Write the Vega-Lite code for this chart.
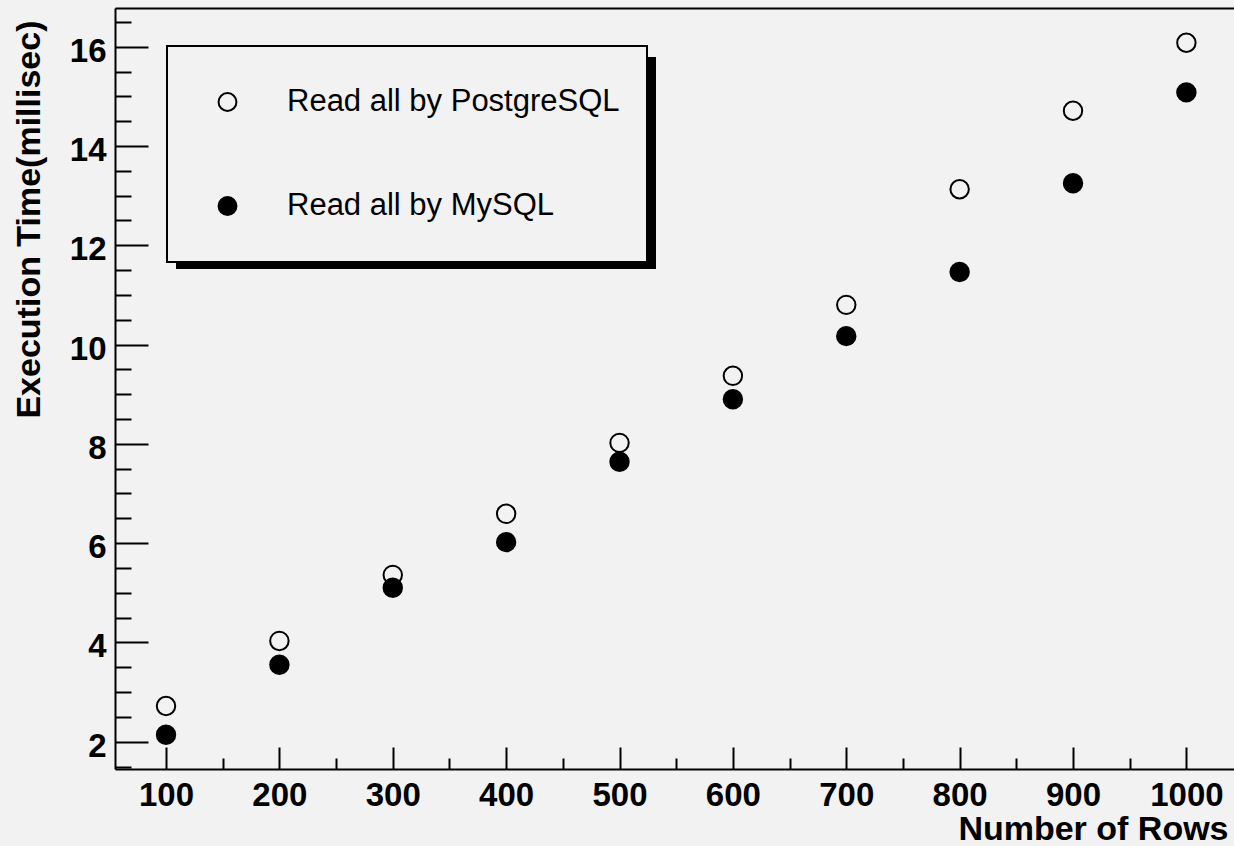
{
  "$schema": "https://vega.github.io/schema/vega-lite/v6.json",
  "autosize": {"type": "none"},
  "padding": {"left": 115, "top": 8, "right": 0, "bottom": 77},
  "width": 1119,
  "height": 761,
  "background": "#f2f2f2",
  "datasets": {
    "pts": [
      {"rows": 100, "time": 2.72, "series": "Read all by PostgreSQL"},
      {"rows": 200, "time": 4.03, "series": "Read all by PostgreSQL"},
      {"rows": 300, "time": 5.36, "series": "Read all by PostgreSQL"},
      {"rows": 400, "time": 6.59, "series": "Read all by PostgreSQL"},
      {"rows": 500, "time": 8.02, "series": "Read all by PostgreSQL"},
      {"rows": 600, "time": 9.37, "series": "Read all by PostgreSQL"},
      {"rows": 700, "time": 10.80, "series": "Read all by PostgreSQL"},
      {"rows": 800, "time": 13.13, "series": "Read all by PostgreSQL"},
      {"rows": 900, "time": 14.71, "series": "Read all by PostgreSQL"},
      {"rows": 1000, "time": 16.08, "series": "Read all by PostgreSQL"},
      {"rows": 100, "time": 2.14, "series": "Read all by MySQL"},
      {"rows": 200, "time": 3.55, "series": "Read all by MySQL"},
      {"rows": 300, "time": 5.10, "series": "Read all by MySQL"},
      {"rows": 400, "time": 6.02, "series": "Read all by MySQL"},
      {"rows": 500, "time": 7.64, "series": "Read all by MySQL"},
      {"rows": 600, "time": 8.90, "series": "Read all by MySQL"},
      {"rows": 700, "time": 10.17, "series": "Read all by MySQL"},
      {"rows": 800, "time": 11.46, "series": "Read all by MySQL"},
      {"rows": 900, "time": 13.25, "series": "Read all by MySQL"},
      {"rows": 1000, "time": 15.08, "series": "Read all by MySQL"}
    ]
  },
  "data": {"name": "pts"},
  "resolve": {"axis": {"x": "independent", "y": "independent"}},
  "layer": [
    {
      "mark": {"type": "point", "shape": "circle", "filled": true, "stroke": "black", "strokeWidth": 2, "size": 340, "opacity": 1},
      "encoding": {
        "x": {
          "field": "rows", "type": "quantitative",
          "scale": {"domain": [55, 1042], "nice": false, "zero": false},
          "axis": {
            "orient": "bottom", "format": "d",
            "values": [100, 200, 300, 400, 500, 600, 700, 800, 900, 1000],
            "tickSize": -22, "tickWidth": 2, "domainWidth": 2,
            "labelFontSize": 33, "labelFontWeight": "bold", "labelBaseline": "alphabetic",
            "labelPadding": 58, "labelFlush": false, "labelOverlap": false,
            "title": "Number of Rows", "titleFontSize": 34, "titleFontWeight": "bold",
            "titleAnchor": "end", "titleAlign": "right", "titleBaseline": "alphabetic",
            "titleX": 1113, "titleY": 70
          }
        },
        "y": {
          "field": "time", "type": "quantitative",
          "scale": {"domain": [1.45, 16.78], "nice": false, "zero": false},
          "axis": {
            "orient": "left",
            "values": [2, 4, 6, 8, 10, 12, 14, 16],
            "tickSize": -33, "tickWidth": 2, "domainWidth": 2,
            "labelFontSize": 33, "labelFontWeight": "bold", "labelAlign": "right",
            "labelBaseline": "alphabetic", "labelOffset": 14.5,
            "labelPadding": 42, "labelFlush": false, "labelOverlap": false,
            "title": "Execution Time(millisec)", "titleFontSize": 34, "titleFontWeight": "bold",
            "titleAngle": -90, "titleAnchor": "end", "titleAlign": "right", "titleBaseline": "alphabetic",
            "titleX": -75.5, "titleY": 12
          }
        },
        "fill": {
          "field": "series", "type": "nominal",
          "scale": {"domain": ["Read all by PostgreSQL", "Read all by MySQL"], "range": ["transparent", "black"]},
          "legend": {
            "title": null, "orient": "none", "legendX": 52, "legendY": 38,
            "fillColor": "#f2f2f2", "strokeColor": "black", "padding": 27,
            "symbolType": "circle", "symbolSize": 320, "symbolStrokeColor": "black", "symbolStrokeWidth": 2,
            "symbolOffset": 18, "labelOffset": 44, "rowPadding": 46, "clipHeight": 58,
            "labelFontSize": 31, "labelFont": "Liberation Sans", "labelColor": "black", "labelLimit": 1000,
            "zindex": 2
          }
        }
      }
    },
    {
      "mark": {"type": "point", "shape": "circle", "opacity": 0},
      "encoding": {
        "x": {
          "field": "rows", "type": "quantitative",
          "axis": {
            "orient": "bottom",
            "values": [150, 250, 350, 450, 550, 650, 750, 850, 950],
            "tickSize": -11, "tickWidth": 2, "domain": false, "labels": false, "title": null
          }
        },
        "y": {
          "field": "time", "type": "quantitative",
          "axis": {
            "orient": "left",
            "values": [1.5, 2.5, 3, 3.5, 4.5, 5, 5.5, 6.5, 7, 7.5, 8.5, 9, 9.5, 10.5, 11, 11.5, 12.5, 13, 13.5, 14.5, 15, 15.5, 16.5],
            "tickSize": -16, "tickWidth": 2, "domain": false, "labels": false, "title": null
          }
        },
        "stroke": {
          "field": "time", "type": "quantitative",
          "scale": {"range": ["black", "black"]},
          "legend": {
            "type": "gradient", "direction": "horizontal", "orient": "none",
            "legendX": 62, "legendY": 50,
            "gradientLength": 478, "gradientThickness": 209, "gradientStrokeWidth": 0,
            "labelExpr": "''", "labelFontSize": 1, "labelOffset": 0, "title": null, "padding": 0,
            "fillColor": "black", "strokeColor": "black", "zindex": 1
          }
        }
      }
    },
    {
      "mark": {"type": "point", "shape": "circle", "opacity": 0},
      "encoding": {
        "x": {
          "field": "rows", "type": "quantitative",
          "axis": {"orient": "top", "ticks": false, "labels": false, "title": null, "domain": true, "domainWidth": 2}
        },
        "y": {"field": "time", "type": "quantitative", "axis": null}
      }
    }
  ],
  "config": {
    "view": {"stroke": null},
    "axis": {
      "grid": false, "domainColor": "black", "tickColor": "black", "labelColor": "black", "titleColor": "black",
      "labelFont": "Liberation Sans", "titleFont": "Liberation Sans"
    },
    "legend": {"strokeWidth": 2, "labelFont": "Liberation Sans"}
  }
}
